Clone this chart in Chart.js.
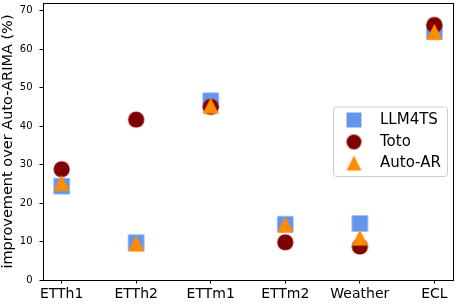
<!DOCTYPE html>
<html>
<head>
<meta charset="utf-8">
<script src="https://cdn.jsdelivr.net/npm/chart.js@4/dist/chart.umd.min.js"></script>
<style>
  html, body { margin: 0; padding: 0; background: #fff; }
  canvas { display: block; }
</style>
</head>
<body>
<canvas id="c" width="457" height="305"></canvas>
<script>
// ---- data ----
const categories = ['ETTh1', 'ETTh2', 'ETTm1', 'ETTm2', 'Weather', 'ECL'];
const llm4ts = [24.4, 9.7, 46.6, 14.5, 14.7, 64.6];
const toto   = [28.8, 41.7, 45.0, 9.8, 8.7, 66.3];
const autoAR = [25.2, 9.5, 45.3, 14.4, 11.0, 64.5];
const yTicks = [0, 10, 20, 30, 40, 50, 60, 70];
const seriesNames = ['LLM4TS', 'Toto', 'Auto-AR'];

const FONT = "'DejaVu Sans', sans-serif";

function makeMarker(shape, color, size) {
  const pad = 2;
  const dim = Math.ceil(size + pad * 2);
  const cv = document.createElement('canvas');
  cv.width = dim; cv.height = dim;
  const ctx = cv.getContext('2d');
  const c = dim / 2, h = size / 2;
  ctx.fillStyle = color;
  ctx.beginPath();
  if (shape === 'square') {
    ctx.rect(c - h, c - h, size, size);
  } else if (shape === 'circle') {
    ctx.arc(c, c, h, 0, Math.PI * 2);
  } else {
    ctx.moveTo(c, c - h);
    ctx.lineTo(c + h, c + h);
    ctx.lineTo(c - h, c + h);
    ctx.closePath();
  }
  ctx.fill();
  return cv;
}

const colors = ['#6495ED', '#800000', '#FF8C00'];
const shapes = ['square', 'circle', 'triangle'];
const markers = shapes.map((s, i) => makeMarker(s, colors[i], 16.2));
const legendMarkers = shapes.map((s, i) => makeMarker(s, colors[i], 15));

const toPts = arr => categories.map((c, i) => ({ x: i, y: arr[i] }));

const frameAndLegend = {
  id: 'frameAndLegend',
  afterDatasetsDraw(chart) {
    const { ctx, chartArea: a } = chart;
    ctx.save();
    ctx.strokeStyle = '#000';
    ctx.lineWidth = 1;
    ctx.strokeRect(Math.round(a.left) + 0.5, Math.round(a.top) + 0.5,
                   Math.round(a.right - a.left), Math.round(a.bottom - a.top));
    ctx.restore();
  },
  afterDraw(chart) {
    const { ctx, chartArea: a } = chart;
    const bx = a.right - 120, by = a.top + 103.5, bw = 114, bh = 69.5;
    ctx.save();
    ctx.fillStyle = 'rgba(255,255,255,0.8)';
    ctx.strokeStyle = '#cccccc';
    ctx.lineWidth = 1;
    ctx.beginPath();
    ctx.roundRect(bx + 0.5, by + 0.5, bw, bh, 3);
    ctx.fill();
    ctx.stroke();
    const rows = [by + 13.5, by + 35.5, by + 56.5];
    ctx.font = '15px ' + FONT;
    ctx.fillStyle = '#000';
    ctx.textBaseline = 'middle';
    ctx.textAlign = 'left';
    chart.data.datasets.forEach((ds, i) => {
      const m = legendMarkers[i];
      ctx.drawImage(m, bx + 21 - m.width / 2, rows[i] - m.height / 2);
      ctx.fillText(ds.label, bx + 47, rows[i]);
    });
    ctx.restore();
  }
};

new Chart(document.getElementById('c'), {
  type: 'scatter',
  data: {
    datasets: [
      { label: seriesNames[0], data: toPts(llm4ts), pointStyle: markers[0], pointRadius: 8, order: 3 },
      { label: seriesNames[1], data: toPts(toto),   pointStyle: markers[1], pointRadius: 8, order: 2 },
      { label: seriesNames[2], data: toPts(autoAR), pointStyle: markers[2], pointRadius: 8, order: 1 }
    ]
  },
  options: {
    responsive: false,
    devicePixelRatio: 1,
    animation: false,
    layout: { autoPadding: false, padding: { top: 3, right: 4, left: 0, bottom: 0 } },
    plugins: { legend: { display: false }, tooltip: { enabled: false } },
    scales: {
      x: {
        type: 'linear',
        min: -0.25,
        max: categories.length - 1 + 0.25,
        afterBuildTicks: s => { s.ticks = categories.map((c, i) => ({ value: i })); },
        afterFit: s => { s.height = 25; s.paddingLeft = 0; s.paddingRight = 0; },
        grid: { display: true, drawOnChartArea: false, drawTicks: true, tickLength: 3.5, color: '#000', lineWidth: 1 },
        border: { display: false },
        ticks: {
          callback: v => categories[v],
          font: { family: FONT, size: 14 },
          color: '#000',
          padding: 2,
          maxRotation: 0,
          autoSkip: false
        }
      },
      y: {
        min: 0,
        max: 72,
        afterBuildTicks: s => { s.ticks = yTicks.map(v => ({ value: v })); },
        afterFit: s => { s.width = 43; s.paddingTop = 0; s.paddingBottom = 0; },
        grid: { display: true, drawOnChartArea: false, drawTicks: true, tickLength: 3.5, color: '#000', lineWidth: 1 },
        border: { display: false },
        ticks: {
          font: { family: FONT, size: 10 },
          color: '#000',
          padding: 7
        },
        title: {
          display: true,
          text: 'improvement over Auto-ARIMA (%)',
          font: { family: FONT, size: 14.5 },
          color: '#000',
          padding: { top: 0, bottom: 0 }
        }
      }
    }
  },
  plugins: [frameAndLegend]
});
</script>
</body>
</html>
